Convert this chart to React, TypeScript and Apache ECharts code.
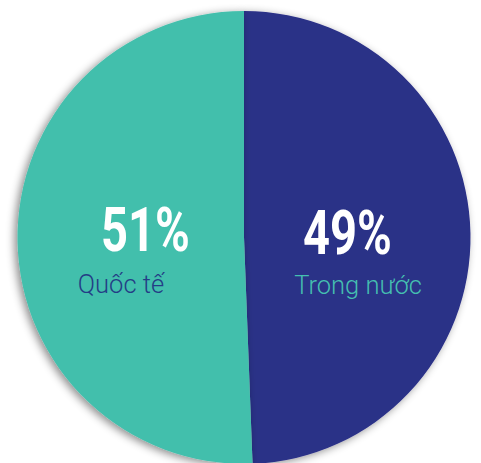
import React, { useEffect, useRef } from "react";
import * as echarts from "echarts";

const categories = ["Trong nước", "Quốc tế"];
const values = [49.4, 50.6];
const sliceColors = ["#2B3087", "#43BFAC"];
const nameColors = ["#45BFB0", "#243D86"];

export default function App() {
  const ref = useRef<HTMLDivElement>(null);
  useEffect(() => {
    document.body.style.margin = "0";
    const chart = echarts.init(ref.current!, null, { renderer: "svg" });
    const total = values.reduce((a, b) => a + b, 0);
    const pct = values.map((v) => `${Math.round((v / total) * 100)}%`);
    // label anchor positions (layout only)
    const pctPos = [
      [347.5, 232.5],
      [145.5, 230],
    ];
    const namePos = [
      [358, 285],
      [121, 284],
    ];
    const graphics: any[] = [];
    categories.forEach((c, i) => {
      graphics.push({
        type: "text",
        x: pctPos[i][0],
        y: pctPos[i][1],
        scaleX: 0.76,
        style: {
          text: pct[i],
          fill: "#ffffff",
          font: "bold 62px Roboto",
          align: "center",
          verticalAlign: "middle",
        },
        z: 10,
      });
      graphics.push({
        type: "text",
        x: namePos[i][0],
        y: namePos[i][1],
        style: {
          text: c,
          fill: nameColors[i],
          font: "300 25.5px Roboto",
          align: "center",
          verticalAlign: "middle",
        },
        z: 10,
      });
    });
    chart.setOption({
      animation: false,
      backgroundColor: "#ffffff",
      graphic: graphics,
      series: [
        {
          type: "pie",
          center: [244, 237.5],
          radius: 226.5,
          startAngle: 90,
          clockwise: true,
          label: { show: false },
          labelLine: { show: false },
          emphasis: { disabled: true },
          itemStyle: {
            borderWidth: 0,
            shadowBlur: 8,
            shadowColor: "rgba(0,0,0,0.45)",
            shadowOffsetX: -3,
            shadowOffsetY: 2,
          },
          data: categories.map((c, i) => ({
            name: c,
            value: values[i],
            itemStyle: { color: sliceColors[i] },
          })),
        },
      ],
    });
    return () => chart.dispose();
  }, []);
  return <div ref={ref} style={{ width: 481, height: 463 }} />;
}
